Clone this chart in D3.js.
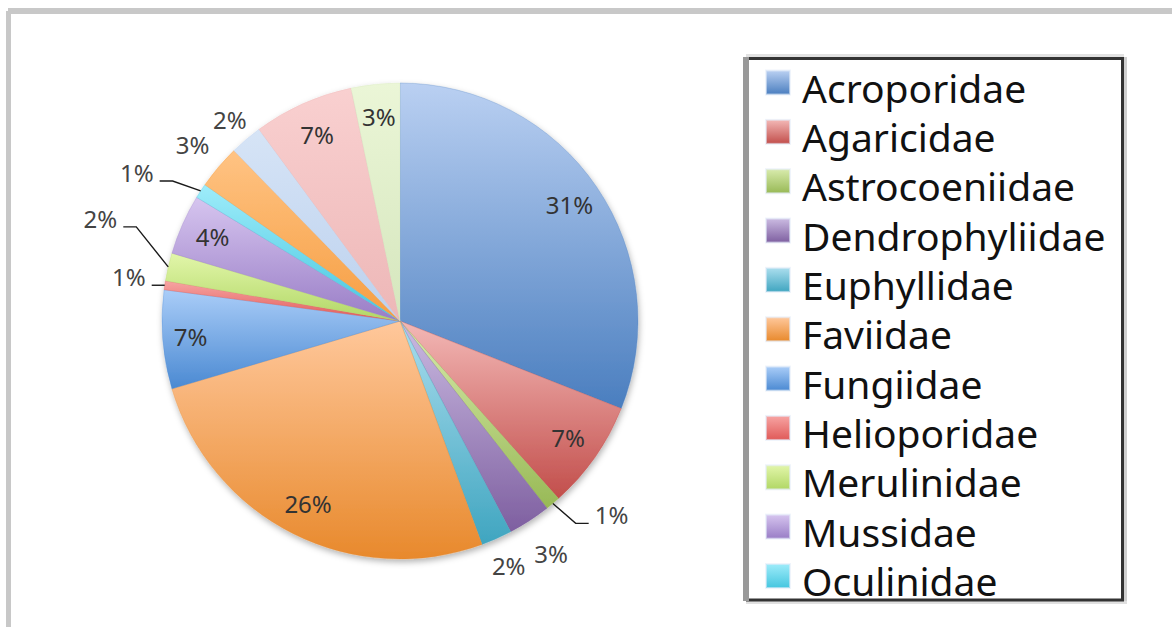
<!DOCTYPE html>
<html>
<head>
<meta charset="utf-8">
<script src="https://cdn.jsdelivr.net/npm/d3@7"></script>
<style>
  body { margin: 0; background: #fff; }
  svg { display: block; }
</style>
</head>
<body>
<div id="chart"></div>
<script>
// coral families (legend only shows the first 11, the rest is cut off by the box)
var families = ["Acroporidae", "Agaricidae", "Astrocoeniidae", "Dendrophyliidae", "Euphyllidae",
  "Faviidae", "Fungiidae", "Helioporidae", "Merulinidae", "Mussidae", "Oculinidae",
  "Pectiniidae", "Pocilloporidae", "Poritidae", "Siderastreidae"];

// share of each family (%)
var shares = [31.0, 7.4, 1.0, 2.9, 2.1, 26.0, 6.7, 0.6, 1.9, 4.1, 1.0, 3.0, 2.2, 6.8, 3.3];

// gradient top / bottom colours, excel 2007 style
var topColors = ["#bad0f2", "#f3b8b6", "#d8ebac", "#cbbbe2", "#abdeee", "#ffc89c", "#aacdf8",
  "#f7a4a3", "#e2f6aa", "#d6c5ef", "#9eecfa", "#ffc383", "#d6e4f6", "#f9d0d0", "#ebf6d7"];
var bottomColors = ["#4a7ebf", "#c24e4b", "#98b956", "#7e5fa0", "#3fa5c0", "#e8892c", "#4a89d2",
  "#e05a58", "#b1d765", "#997dc6", "#45c6df", "#f69e42", "#bcd1ee", "#edb7b7", "#d5e6bd"];

// how each percentage label is placed: in = inside, out = outside, lead = with a leader line
var labelMode = ["in", "in", "lead", "out", "out", "in", "in", "lead", "lead", "in", "lead", "out", "out", "in", "in"];
var labelRadius = [205, 205, 268, 278, 268, 205, 210, 238, 280, 205, 267, 272, 263, 203, 205];
// small turn of the leader elbow away from the slice middle (degrees)
var labelTurn = [0, 0, -1, 0, 0, 0, 0, 0, 6.5, 0, -1.5, 0, 0, 0, 0];

var W = 1172, H = 627;
var cx = 400, cy = 321, radius = 238;

var svg = d3.select("#chart").append("svg")
  .attr("width", W)
  .attr("height", H);

var defs = svg.append("defs");

// one vertical gradient per family
families.forEach(function(f, i) {
  var g = defs.append("linearGradient")
    .attr("id", "grad" + i)
    .attr("x1", 0).attr("y1", 0).attr("x2", 0).attr("y2", 1);
  g.append("stop").attr("offset", "0%").attr("stop-color", topColors[i]);
  g.append("stop").attr("offset", "100%").attr("stop-color", bottomColors[i]);
});

var shadow = defs.append("filter")
  .attr("id", "pieShadow")
  .attr("x", "-10%").attr("y", "-10%").attr("width", "120%").attr("height", "120%");
shadow.append("feDropShadow")
  .attr("dx", 1).attr("dy", 3)
  .attr("stdDeviation", 3)
  .attr("flood-color", "#000")
  .attr("flood-opacity", 0.3);

// outer chart frame (only top and left edges show)
svg.append("line")
  .attr("x1", 8).attr("y1", 11).attr("x2", W).attr("y2", 11)
  .attr("stroke", "#c8c8c8").attr("stroke-width", 6);
svg.append("line")
  .attr("x1", 8.5).attr("y1", 11).attr("x2", 8.5).attr("y2", H)
  .attr("stroke", "#c8c8c8").attr("stroke-width", 5);

// pie
var pie = d3.pie()
  .sort(null)
  .value(function(d) { return d; });
var arcs = pie(shares);
var total = d3.sum(shares);

var arc = d3.arc()
  .innerRadius(0)
  .outerRadius(radius);

var g = svg.append("g")
  .attr("transform", "translate(" + cx + "," + cy + ")");

g.append("g")
  .attr("filter", "url(#pieShadow)")
  .selectAll("path")
  .data(arcs)
  .enter()
  .append("path")
  .attr("d", arc)
  .attr("fill", function(d, i) { return "url(#grad" + i + ")"; })
  .attr("stroke", function(d, i) { return bottomColors[i]; })
  .attr("stroke-width", 0.3);

function pct(d) { return Math.round(d.data / total * 100) + "%"; }

function pointAt(d, r) {
  return d3.arc().innerRadius(r).outerRadius(r).centroid(d);
}

// elbow of a leader line: mid angle turned a little
function elbow(d) {
  var a = (d.startAngle + d.endAngle) / 2 + labelTurn[d.index] * Math.PI / 180;
  var r = labelRadius[d.index];
  return [r * Math.sin(a), -r * Math.cos(a)];
}

// inside and plain outside labels
g.selectAll("text.plain")
  .data(arcs.filter(function(d, i) { return labelMode[i] != "lead"; }))
  .enter()
  .append("text")
  .attr("class", "plain")
  .attr("x", function(d) { return pointAt(d, labelRadius[d.index])[0]; })
  .attr("y", function(d) { return pointAt(d, labelRadius[d.index])[1]; })
  .attr("dy", "0.36em")
  .attr("text-anchor", "middle")
  .style("font-family", "'Noto Sans', sans-serif")
  .style("font-size", "24px")
  .style("fill", function(d) { return labelMode[d.index] == "in" ? "#333" : "#444"; })
  .text(pct);

// labels with leader lines
var leads = arcs.filter(function(d, i) { return labelMode[i] == "lead"; });

g.selectAll("polyline")
  .data(leads)
  .enter()
  .append("polyline")
  .attr("fill", "none")
  .attr("stroke", "#1a1a1a")
  .attr("stroke-width", 1.4)
  .attr("points", function(d) {
    var a = pointAt(d, radius);
    var b = elbow(d);
    var side = b[0] < 0 ? -1 : 1;
    var c = [b[0] + side * 13, b[1]];
    return [a, b, c];
  });

g.selectAll("text.lead")
  .data(leads)
  .enter()
  .append("text")
  .attr("class", "lead")
  .attr("x", function(d) {
    var b = elbow(d);
    return b[0] < 0 ? b[0] - 19 : b[0] + 19;
  })
  .attr("y", function(d) { return elbow(d)[1] + 1; })
  .attr("text-anchor", function(d) { return elbow(d)[0] < 0 ? "end" : "start"; })
  .style("font-family", "'Noto Sans', sans-serif")
  .style("font-size", "24px")
  .style("fill", "#444")
  .text(pct);

// legend box
svg.append("line")
  .attr("x1", 746).attr("y1", 55.5).attr("x2", 1124).attr("y2", 55.5)
  .attr("stroke", "#e2e2e2").attr("stroke-width", 3);
svg.append("line")
  .attr("x1", 1125.5).attr("y1", 57).attr("x2", 1125.5).attr("y2", 604)
  .attr("stroke", "#cfcfcf").attr("stroke-width", 3);
svg.append("line")
  .attr("x1", 746).attr("y1", 602.5).attr("x2", 1127).attr("y2", 602.5)
  .attr("stroke", "#e0e0e0").attr("stroke-width", 3);
svg.append("rect")
  .attr("x", 747.5).attr("y", 58.5).attr("width", 375).attr("height", 541.5)
  .attr("fill", "#fff")
  .attr("stroke", "#333").attr("stroke-width", 3);
svg.append("line")
  .attr("x1", 746).attr("y1", 57).attr("x2", 746).attr("y2", 601)
  .attr("stroke", "#999").attr("stroke-width", 6);

var rowY = d3.scaleLinear().domain([0, 1]).range([82.5, 131.85]);

// only the entries that fit inside the box are visible
var shown = families.filter(function(d, i) { return rowY(i) + 22 < 600; });

var rows = svg.append("g").selectAll("g.row")
  .data(shown)
  .enter()
  .append("g")
  .attr("class", "row")
  .attr("transform", function(d, i) { return "translate(766," + rowY(i) + ")"; });

rows.append("rect")
  .attr("x", 0).attr("y", -12)
  .attr("width", 24).attr("height", 24)
  .attr("fill", function(d, i) { return "url(#grad" + i + ")"; })
  .attr("stroke", "#e4ecf8")
  .attr("stroke-opacity", 0.6)
  .attr("stroke-width", 2);

rows.append("text")
  .attr("x", 36)
  .attr("y", 20)
  .style("font-family", "'Noto Sans', sans-serif")
  .style("font-size", "39px")
  .style("fill", "#111")
  .text(function(d) { return d; });
</script>
</body>
</html>
